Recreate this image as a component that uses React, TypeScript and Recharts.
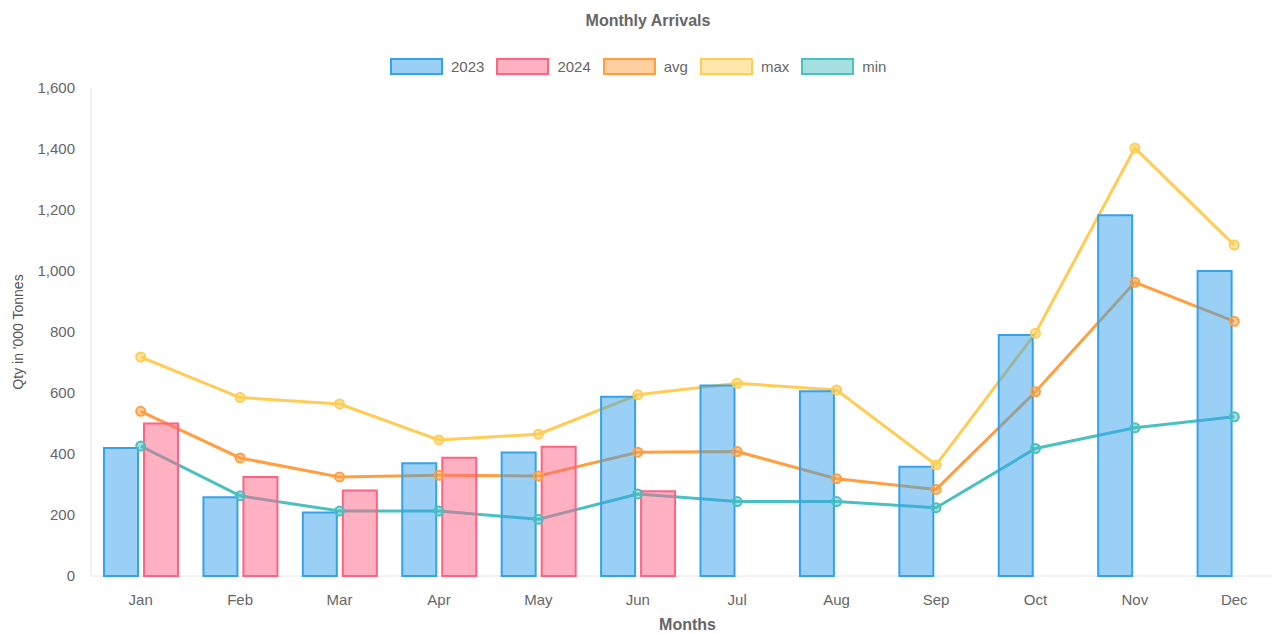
import React from "react";
import {
  ComposedChart,
  Bar,
  Line,
  XAxis,
  YAxis,
  Label,
} from "recharts";

const months = ["Jan", "Feb", "Mar", "Apr", "May", "Jun", "Jul", "Aug", "Sep", "Oct", "Nov", "Dec"];
const y2023 = [420, 258, 208, 370, 405, 588, 625, 606, 358, 790, 1183, 1000];
const y2024 = [500, 325, 280, 388, 424, 278, null, null, null, null, null, null];
const avgVals = [540, 387, 325, 330, 328, 406, 408, 319, 284, 604, 963, 835];
const maxVals = [718, 585, 564, 446, 465, 594, 632, 610, 364, 796, 1403, 1085];
const minVals = [426, 263, 213, 213, 186, 269, 244, 244, 224, 418, 486, 522];
const yTicks = [0, 200, 400, 600, 800, 1000, 1200, 1400, 1600];

const data = months.map((m, i) => ({
  month: m,
  y2023: y2023[i],
  y2024: y2024[i],
  avg: avgVals[i],
  max: maxVals[i],
  min: minVals[i],
}));

const FONT = "'Liberation Sans', Arial, Helvetica, sans-serif";

const legendItems = [
  { label: "2023", stroke: "rgb(54,162,235)", fill: "rgba(54,162,235,0.5)" },
  { label: "2024", stroke: "rgb(255,99,132)", fill: "rgba(255,99,132,0.5)" },
  { label: "avg", stroke: "rgb(255,159,64)", fill: "rgba(255,159,64,0.5)" },
  { label: "max", stroke: "rgb(255,205,86)", fill: "rgba(255,205,86,0.5)" },
  { label: "min", stroke: "rgb(75,192,192)", fill: "rgba(75,192,192,0.5)" },
];

const lines = [
  { key: "avg", stroke: "rgb(255,159,64)", fill: "rgba(255,159,64,0.5)" },
  { key: "max", stroke: "rgb(255,205,86)", fill: "rgba(255,205,86,0.5)" },
  { key: "min", stroke: "rgb(75,192,192)", fill: "rgba(75,192,192,0.5)" },
];

// canvas is a bit wider than the window, right side gets cropped
const W = 1296;
const H = 634;

export default function App() {
  return (
    <div
      style={{
        position: "absolute",
        left: 0,
        top: 0,
        width: 1272,
        height: 634,
        overflow: "hidden",
        fontFamily: FONT,
        background: "#fff",
      }}
    >
      <div
        style={{
          position: "absolute",
          left: 0,
          top: 12,
          width: W,
          textAlign: "center",
          fontSize: 16,
          fontWeight: 700,
          color: "#666",
        }}
      >
        Monthly Arrivals
      </div>

      <div
        style={{
          position: "absolute",
          left: 390,
          top: 58,
          display: "flex",
          fontSize: 15,
          color: "#666",
        }}
      >
        {legendItems.map((it) => (
          <div key={it.label} style={{ display: "flex", alignItems: "center", marginRight: 12 }}>
            <span
              style={{
                display: "inline-block",
                width: 49,
                height: 13,
                background: it.fill,
                border: `2px solid ${it.stroke}`,
                marginRight: 8,
              }}
            />
            <span>{it.label}</span>
          </div>
        ))}
      </div>

      <ComposedChart
        width={W}
        height={H}
        data={data}
        margin={{ top: 88, right: 12, bottom: 0, left: 0 }}
        barSize={34}
        barGap={6}
        style={{ position: "absolute", left: 0, top: 0, fontFamily: FONT }}
      >
        <XAxis
          dataKey="month"
          height={58}
          tickLine={false}
          tickSize={0}
          tickMargin={18}
          axisLine={{ stroke: "#e5e5e5" }}
          tick={{ fill: "#666", fontSize: 15 }}
        >
          <Label
            value="Months"
            position="insideBottom"
            offset={4}
            style={{ fill: "#666", fontSize: 16, fontWeight: 700 }}
          />
        </XAxis>
        <YAxis
          width={91}
          domain={[0, 1600]}
          ticks={yTicks}
          interval={0}
          tickLine={false}
          tickSize={0}
          tickMargin={16}
          axisLine={{ stroke: "#e5e5e5" }}
          tick={{ fill: "#666", fontSize: 15 }}
          tickFormatter={(v: number) => v.toLocaleString("en-US")}
        >
          <Label
            value="Qty in '000 Tonnes"
            angle={-90}
            position="insideLeft"
            offset={18}
            style={{ fill: "#555", fontSize: 14, textAnchor: "middle" }}
          />
        </YAxis>

        {lines.map((l) => (
          <Line
            key={l.key}
            dataKey={l.key}
            type="linear"
            stroke={l.stroke}
            strokeWidth={3}
            dot={{ r: 4.5, fill: l.fill, stroke: l.stroke, strokeWidth: 2 }}
            activeDot={false}
            isAnimationActive={false}
            zIndex={400}
          />
        ))}

        <Bar
          dataKey="y2023"
          fill="rgba(54,162,235,0.5)"
          stroke="rgb(54,162,235)"
          strokeWidth={2}
          isAnimationActive={false}
          zIndex={500}
        />
        <Bar
          dataKey="y2024"
          fill="rgba(255,99,132,0.5)"
          stroke="rgb(255,99,132)"
          strokeWidth={2}
          isAnimationActive={false}
          zIndex={500}
        />
      </ComposedChart>
    </div>
  );
}
